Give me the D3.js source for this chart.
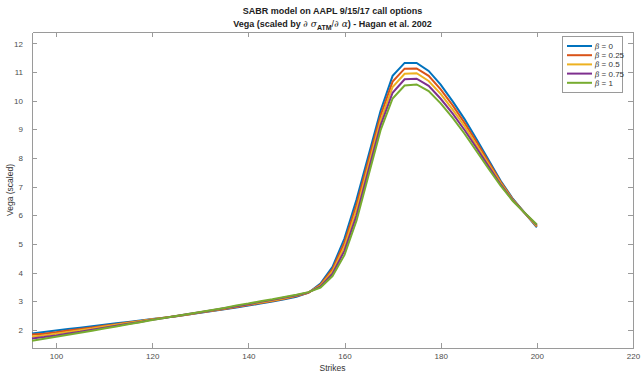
<!DOCTYPE html>
<html lang="en">
<head>
<meta charset="utf-8">
<script src="https://d3js.org/d3.v7.min.js"></script>
<style>
  body { margin: 0; background: #ffffff; font-family: "Liberation Sans", Arial, sans-serif; }
  .tick text { fill: #4d4d4d; font-size: 8px; }
  .axis path, .axis line { stroke: #9a9a9a; shape-rendering: crispEdges; }
</style>
</head>
<body>
<script>
// strikes (x) and vega for each beta
var strikes = [95, 97.5, 100, 102.5, 105, 107.5, 110, 112.5, 115, 117.5, 120, 122.5, 125, 127.5,
  130, 132.5, 135, 137.5, 140, 142.5, 145, 147.5, 150, 152.5, 155, 157.5, 160, 162.5, 165, 167.5,
  170, 172.5, 175, 177.5, 180, 182.5, 185, 187.5, 190, 192.5, 195, 197.5, 200];

var vegaB0 = [1.88, 1.93, 1.98, 2.03, 2.08, 2.13, 2.18, 2.23, 2.28, 2.33, 2.38, 2.43, 2.48, 2.54,
  2.60, 2.66, 2.72, 2.78, 2.85, 2.92, 2.99, 3.07, 3.16, 3.30, 3.62, 4.20, 5.20, 6.55, 8.10, 9.65,
  10.87, 11.32, 11.32, 11.04, 10.56, 9.98, 9.35, 8.65, 7.92, 7.20, 6.58, 6.08, 5.58];
var vegaB025 = [1.84, 1.87, 1.92, 1.98, 2.03, 2.09, 2.15, 2.20, 2.26, 2.31, 2.37, 2.43, 2.48, 2.54,
  2.61, 2.67, 2.73, 2.80, 2.87, 2.94, 3.01, 3.09, 3.18, 3.30, 3.58, 4.12, 5.06, 6.37, 7.93, 9.48,
  10.67, 11.12, 11.13, 10.87, 10.40, 9.84, 9.22, 8.55, 7.85, 7.16, 6.56, 6.08, 5.61];
var vegaB05 = [1.77, 1.81, 1.87, 1.93, 1.99, 2.05, 2.12, 2.18, 2.24, 2.30, 2.37, 2.43, 2.49, 2.55,
  2.62, 2.68, 2.75, 2.82, 2.89, 2.96, 3.03, 3.11, 3.20, 3.31, 3.55, 4.04, 4.91, 6.19, 7.75, 9.31,
  10.48, 10.94, 10.96, 10.69, 10.24, 9.69, 9.10, 8.44, 7.77, 7.12, 6.54, 6.08, 5.63];
var vegaB075 = [1.70, 1.75, 1.81, 1.88, 1.94, 2.01, 2.08, 2.15, 2.22, 2.28, 2.36, 2.42, 2.49, 2.56,
  2.62, 2.69, 2.76, 2.83, 2.90, 2.98, 3.05, 3.13, 3.21, 3.31, 3.52, 3.96, 4.77, 6.00, 7.58, 9.14,
  10.28, 10.75, 10.77, 10.52, 10.07, 9.55, 8.97, 8.34, 7.70, 7.07, 6.52, 6.08, 5.66];
var vegaB1 = [1.62, 1.69, 1.76, 1.83, 1.90, 1.97, 2.05, 2.12, 2.20, 2.27, 2.35, 2.42, 2.49, 2.56,
  2.63, 2.70, 2.77, 2.85, 2.92, 3.00, 3.07, 3.15, 3.23, 3.32, 3.48, 3.88, 4.62, 5.82, 7.40, 8.97,
  10.08, 10.53, 10.57, 10.34, 9.91, 9.40, 8.84, 8.23, 7.62, 7.03, 6.50, 6.08, 5.68];

var betaLabels = ["0", "0.25", "0.5", "0.75", "1"];
var xTicks = [100, 120, 140, 160, 180, 200, 220];
var yTicks = [2, 3, 4, 5, 6, 7, 8, 9, 10, 11, 12];

var series = [vegaB0, vegaB025, vegaB05, vegaB075, vegaB1];
var colors = ["#0072BD", "#D95319", "#EDB120", "#7E2F8E", "#77AC30"];

var W = 641, H = 373;
var margin = {top: 32, right: 8, bottom: 25, left: 32};
var width = W - margin.left - margin.right,
    height = H - margin.top - margin.bottom;

var svg = d3.select("body").append("svg")
    .attr("width", W)
    .attr("height", H);

var g = svg.append("g")
    .attr("transform", "translate(" + margin.left + "," + margin.top + ")");

var x = d3.scaleLinear().domain([95, 220]).range([0, width]);
var y = d3.scaleLinear().domain([1.37, 12.4]).range([height, 0]);

// axes, ticks pointing inward like matlab
g.append("g").attr("class", "axis")
    .attr("transform", "translate(0," + height + ")")
    .call(d3.axisBottom(x).tickValues(xTicks).tickSizeInner(-5).tickSizeOuter(0).tickPadding(5));
g.append("g").attr("class", "axis")
    .call(d3.axisTop(x).tickValues(xTicks).tickSizeInner(-5).tickSizeOuter(0).tickFormat(""));
g.append("g").attr("class", "axis")
    .call(d3.axisLeft(y).tickValues(yTicks).tickSizeInner(-5).tickSizeOuter(0).tickPadding(9));
g.append("g").attr("class", "axis")
    .attr("transform", "translate(" + width + ",0)")
    .call(d3.axisRight(y).tickValues(yTicks).tickSizeInner(-5).tickSizeOuter(0).tickFormat(""));

g.selectAll(".axis .tick text").attr("font-family", "Liberation Sans, Arial, sans-serif");

var line = d3.line()
    .x(function(d, i) { return x(strikes[i]); })
    .y(function(d) { return y(d); });

series.forEach(function(s, k) {
  g.append("path")
      .datum(s)
      .attr("d", line)
      .attr("fill", "none")
      .attr("stroke", colors[k])
      .attr("stroke-width", 2)
      .attr("stroke-linejoin", "miter");
});

// titles
svg.append("text")
    .attr("x", margin.left + width / 2)
    .attr("y", 14)
    .attr("text-anchor", "middle")
    .style("font-size", "9px")
    .style("font-weight", "bold")
    .style("fill", "#222")
    .text("SABR model on AAPL 9/15/17 call options");

var t2 = svg.append("text")
    .attr("x", margin.left + width / 2)
    .attr("y", 27)
    .attr("text-anchor", "middle")
    .style("font-size", "9px")
    .style("font-weight", "bold")
    .style("fill", "#222");
t2.append("tspan").text("Vega (scaled by ");
t2.append("tspan").style("font-style", "italic").style("font-weight", "normal")
    .style("font-family", "DejaVu Serif, serif").text("\u2202 \u03c3");
t2.append("tspan").attr("dy", 3).style("font-size", "7px").text("ATM");
t2.append("tspan").attr("dy", -3).style("font-weight", "normal").text("/");
t2.append("tspan").style("font-style", "italic").style("font-weight", "normal")
    .style("font-family", "DejaVu Serif, serif").text("\u2202 \u03b1");
t2.append("tspan").text(") - Hagan et al. 2002");

// axis labels
svg.append("text")
    .attr("x", margin.left + width / 2)
    .attr("y", 371)
    .attr("text-anchor", "middle")
    .style("font-size", "8.5px")
    .style("fill", "#333")
    .text("Strikes");

svg.append("text")
    .attr("transform", "translate(13," + (margin.top + height / 2) + ") rotate(-90)")
    .attr("text-anchor", "middle")
    .style("font-size", "8.5px")
    .style("fill", "#333")
    .text("Vega (scaled)");

// legend
var lg = svg.append("g").attr("transform", "translate(562,36)");
lg.append("rect")
    .attr("width", 60)
    .attr("height", 56)
    .attr("fill", "#fff")
    .attr("stroke", "#9a9a9a")
    .attr("stroke-width", 1)
    .attr("shape-rendering", "crispEdges");

betaLabels.forEach(function(b, k) {
  var yy = 10 + k * 9.2;
  lg.append("line")
      .attr("x1", 5).attr("x2", 30)
      .attr("y1", yy).attr("y2", yy)
      .attr("stroke", colors[k])
      .attr("stroke-width", 2);
  var t = lg.append("text")
      .attr("x", 33)
      .attr("y", yy + 3)
      .style("font-size", "8px")
      .style("fill", "#333");
  t.append("tspan").style("font-style", "italic").style("font-family", "DejaVu Serif, serif")
      .style("font-size", "7.5px").text("\u03b2");
  t.append("tspan").text(" = " + b);
});
</script>
</body>
</html>
